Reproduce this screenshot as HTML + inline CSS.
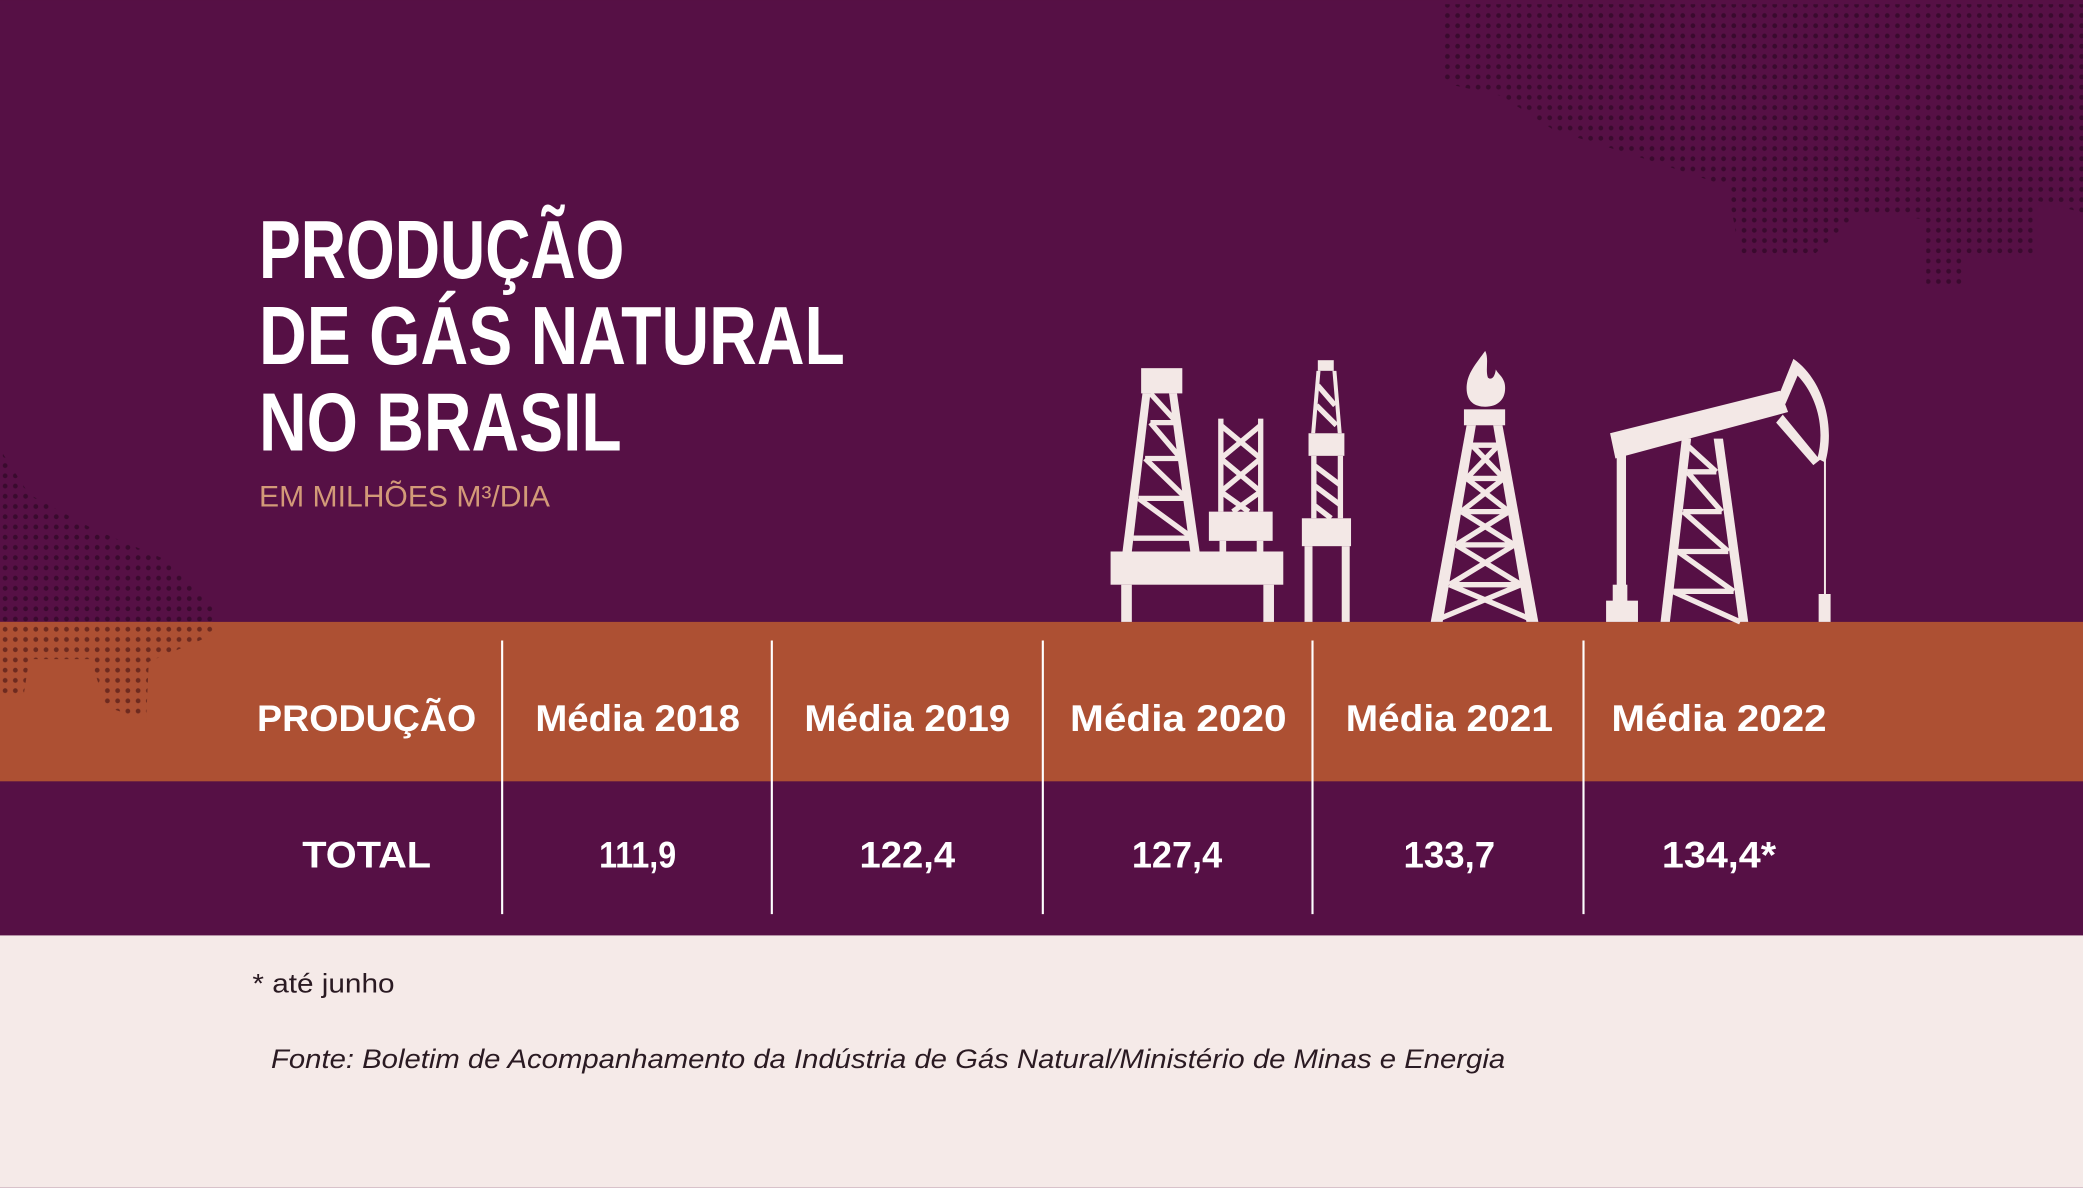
<!DOCTYPE html>
<html><head><meta charset="utf-8"><style>html,body{margin:0;padding:0;background:#561045}svg{display:block}</style></head>
<body>
<svg width="2083" height="1188" viewBox="0 0 1568 894" xmlns="http://www.w3.org/2000/svg" font-family="'Liberation Sans', sans-serif">
<defs>
<pattern id="dp" x="0" y="0" width="7.7" height="7.7" patternUnits="userSpaceOnUse"><circle cx="3.85" cy="3.85" r="1.8" fill="#3a0a2e"/></pattern>
<pattern id="dpo" x="0" y="0" width="7.7" height="7.7" patternUnits="userSpaceOnUse"><circle cx="3.85" cy="3.85" r="1.8" fill="#6e2a1f"/></pattern>
<clipPath id="tr"><polygon points="1085,3 1568,3 1568,160 1530,150 1530,192 1478,192 1478,214 1450,214 1450,165 1400,160 1365,192 1310,192 1300,140 1240,120 1170,98 1130,72 1085,62"/></clipPath>
<clipPath id="lf"><polygon points="0,338 22,372 70,398 122,420 160,455 160,478 112,498 110,542 80,532 68,496 22,496 18,522 0,522"/></clipPath>
</defs>
<rect width="1568" height="894" fill="#561045"/>
<rect x="0" y="0" width="1568" height="240" fill="url(#dp)" clip-path="url(#tr)"/>
<rect x="0" y="330" width="200" height="220" fill="url(#dp)" clip-path="url(#lf)"/>
<rect x="0" y="468" width="1568" height="120" fill="#ad5033"/>
<g clip-path="url(#lf)"><rect x="0" y="468" width="200" height="120" fill="#ad5033"/><rect x="0" y="468" width="200" height="120" fill="url(#dpo)"/></g>
<rect x="0" y="704" width="1568" height="190" fill="#f5eae8"/>

<g fill="#fff" font-weight="bold">
<text x="195" y="209" font-size="62" textLength="275" lengthAdjust="spacingAndGlyphs">PRODUÇÃO</text>
<text x="195" y="274" font-size="62" textLength="441" lengthAdjust="spacingAndGlyphs">DE GÁS NATURAL</text>
<text x="195" y="339" font-size="62" textLength="273" lengthAdjust="spacingAndGlyphs">NO BRASIL</text>
</g>
<text x="195" y="381" font-size="22" fill="#d39a78" textLength="219" lengthAdjust="spacingAndGlyphs">EM MILHÕES M³/DIA</text>

<!-- icons -->
<g fill="#f3e8e6" stroke="none">
<rect x="859" y="277" width="31" height="19"/>
<polygon points="860,296 866,296 852,415 845,415"/><polygon points="880,296 886,296 903,415 896,415"/>
<rect x="836" y="415" width="130" height="25"/>
<rect x="844" y="440" width="8" height="28"/><rect x="951" y="440" width="8" height="28"/>
<rect x="910" y="385" width="48" height="22"/>
<rect x="917" y="315" width="4" height="70"/><rect x="947" y="315" width="4" height="70"/>
<rect x="918" y="407" width="5" height="8"/><rect x="946" y="407" width="5" height="8"/>
<rect x="992" y="271" width="12" height="8"/>
<rect x="985" y="326" width="27" height="17"/>
<rect x="980" y="390" width="37" height="21"/>
<rect x="982" y="411" width="6" height="57"/><rect x="1010" y="411" width="6" height="57"/>
<rect x="987" y="343" width="4" height="47"/><rect x="1007" y="343" width="4" height="47"/>
<polygon points="991,279 994,279 990,326 987,326"/><polygon points="1003,279 1006,279 1010,326 1007,326"/>
<path d="M1118,264 C1110,275 1104,282 1104,292 C1104,302 1110,306 1118,306 C1127,306 1133,301 1133,292 C1133,284 1128,282 1126,278 C1125,285 1122,286 1120,284 C1118,278 1121,270 1118,264Z"/>
<rect x="1102" y="308" width="31" height="12"/>
<polygon points="1104,320 1111,320 1086,468 1077,468"/><polygon points="1124,320 1131,320 1158,468 1149,468"/>
<polygon points="1212,326 1340,294 1346,310 1216,345"/>
<path d="M1350,270 C1372,285 1382,320 1374,348 L1368,345 C1375,320 1366,292 1348,278 Z M1338,300 L1350,270 L1356,276 L1344,304Z M1342,312 L1370,346 L1365,350 L1337,318Z"/>
<rect x="1217" y="340" width="7" height="103"/>
<rect x="1214" y="440" width="11" height="14"/><rect x="1209" y="452" width="24" height="16"/>
<polygon points="1266,330 1273,330 1257,468 1250,468"/><polygon points="1290,330 1297,330 1316,468 1309,468"/>
<rect x="1373" y="345" width="1.5" height="105"/>
<rect x="1369" y="447" width="9" height="21"/>
</g>
<g stroke="#f3e8e6" stroke-width="4" fill="none">
<path d="M866,318 L885,318 M862,345 L889,345 M857,375 L893,375 M853,405 L898,405 M866,318 L889,345 M862,345 L893,375 M857,375 L898,405 M866,296 L886,318"/>
<path d="M919,320 L949,345 M949,320 L919,345 M919,345 L949,370 M949,345 L919,370 M919,370 L940,385 M949,370 L928,385"/>
<path d="M989,350 L1009,365 M989,365 L1009,380 M989,380 L1002,390 M992,290 L1005,305 M991,305 L1006,320"/>
<path d="M1108,335 L1128,335 M1104,360 L1132,360 M1100,385 L1136,385 M1096,410 L1140,410 M1091,440 L1145,440 M1108,335 L1132,360 M1128,335 L1104,360 M1104,360 L1136,385 M1132,360 L1100,385 M1100,385 L1140,410 M1136,385 L1096,410 M1096,410 L1145,440 M1140,410 L1091,440 M1091,440 L1150,465 M1145,440 L1085,465"/>
<path d="M1270,355 L1292,355 M1267,385 L1296,385 M1263,415 L1301,415 M1259,445 L1305,445 M1270,335 L1292,355 M1270,355 L1296,385 M1267,385 L1301,415 M1263,415 L1305,445 M1259,445 L1310,468"/>
</g>

<g stroke="#fff" stroke-width="1.6">
<line x1="378" y1="482" x2="378" y2="688"/><line x1="581" y1="482" x2="581" y2="688"/><line x1="785" y1="482" x2="785" y2="688"/><line x1="988" y1="482" x2="988" y2="688"/><line x1="1192" y1="482" x2="1192" y2="688"/>
</g>
<g fill="#fff" font-weight="bold" font-size="28" text-anchor="middle">
<text x="276" y="550" textLength="165" lengthAdjust="spacingAndGlyphs">PRODUÇÃO</text>
<text x="480" y="550" textLength="154" lengthAdjust="spacingAndGlyphs">Média 2018</text>
<text x="683" y="550" textLength="155" lengthAdjust="spacingAndGlyphs">Média 2019</text>
<text x="887" y="550" textLength="163" lengthAdjust="spacingAndGlyphs">Média 2020</text>
<text x="1091" y="550" textLength="156" lengthAdjust="spacingAndGlyphs">Média 2021</text>
<text x="1294" y="550" textLength="162" lengthAdjust="spacingAndGlyphs">Média 2022</text>
<text x="276" y="653" textLength="97" lengthAdjust="spacingAndGlyphs">TOTAL</text>
<text x="480" y="653" textLength="58" lengthAdjust="spacingAndGlyphs">111,9</text>
<text x="683" y="653" textLength="72" lengthAdjust="spacingAndGlyphs">122,4</text>
<text x="886" y="653" textLength="68" lengthAdjust="spacingAndGlyphs">127,4</text>
<text x="1091" y="653" textLength="69" lengthAdjust="spacingAndGlyphs">133,7</text>
<text x="1294" y="653" textLength="86" lengthAdjust="spacingAndGlyphs">134,4*</text>
</g>
<text x="190" y="747" font-size="20" fill="#2a1a22" textLength="107" lengthAdjust="spacingAndGlyphs">* até junho</text>
<text x="204" y="804" font-size="20" font-style="italic" fill="#2a1a22" textLength="929" lengthAdjust="spacingAndGlyphs">Fonte: Boletim de Acompanhamento da Indústria de Gás Natural/Ministério de Minas e Energia</text>
</svg>
</body></html>
